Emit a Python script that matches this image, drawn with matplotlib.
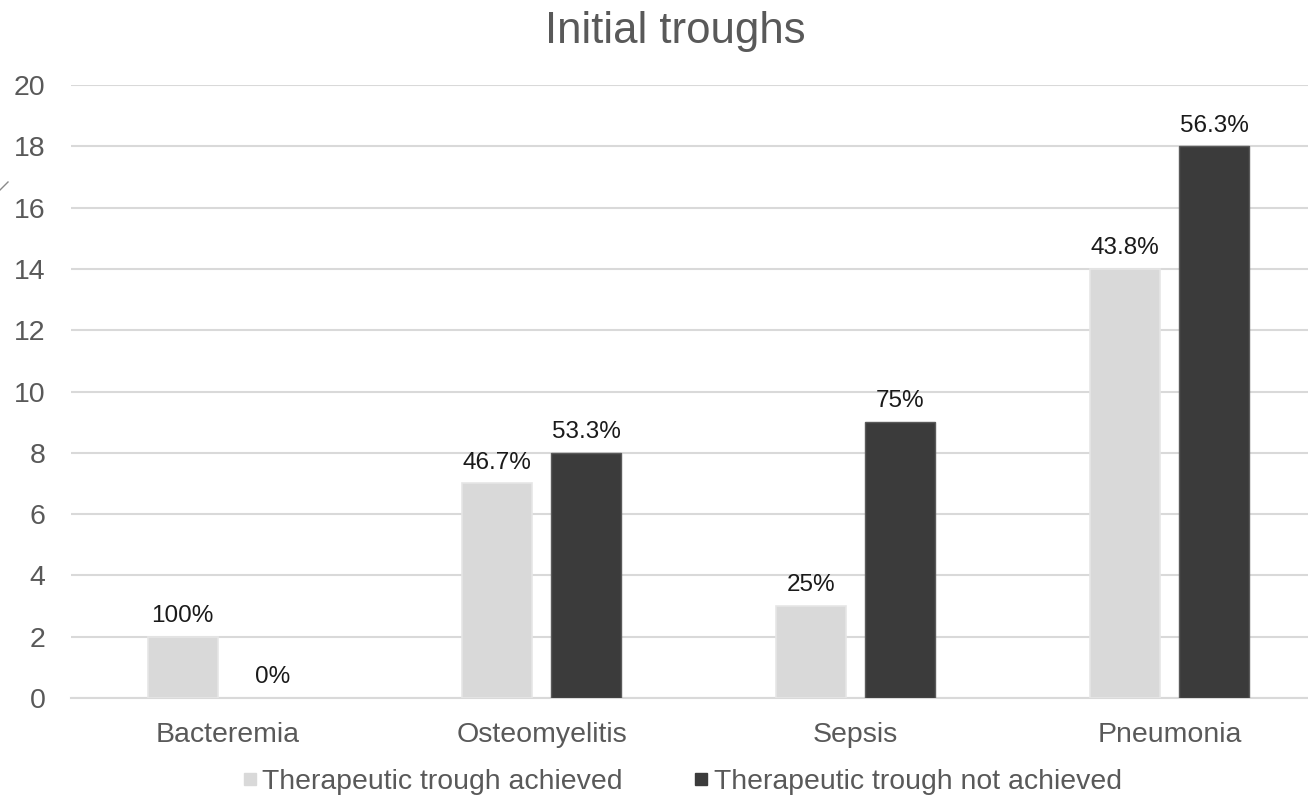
import matplotlib
matplotlib.use("Agg")
import matplotlib.pyplot as plt
from matplotlib.lines import Line2D
import numpy as np

categories = ["Bacteremia", "Osteomyelitis", "Sepsis", "Pneumonia"]
achieved = [2, 7, 3, 14]
not_achieved = [0, 8, 9, 18]
achieved_pct = ["100%", "46.7%", "25%", "43.8%"]
not_achieved_pct = ["0%", "53.3%", "75%", "56.3%"]
series_names = ["Therapeutic trough achieved", "Therapeutic trough not achieved"]

plt.rcParams["font.family"] = ["Liberation Sans", "DejaVu Sans"]

W, H = 1308, 799
fig = plt.figure(figsize=(W / 100, H / 100), dpi=100)
left, right = 70.5, 1326.5
bottom, top = 101, 714
ax = fig.add_axes([left / W, bottom / H, (right - left) / W, (top - bottom) / H])

light = "#d9d9d9"
dark = "#3b3b3b"
x = np.arange(len(categories))
bw = 0.223
off = 0.143

b1 = ax.bar(x - off, achieved, bw, color=light,
            edgecolor=["#e6e6e6" if v else "none" for v in achieved],
            linewidth=1.2, zorder=3)
b2 = ax.bar(x + off, not_achieved, bw, color=dark,
            edgecolor=["#5a5a5a" if v else "none" for v in not_achieved],
            linewidth=1.0, zorder=3)

for bars, labels in ((b1, achieved_pct), (b2, not_achieved_pct)):
    for rect, lab in zip(bars, labels):
        ax.annotate(lab, (rect.get_x() + rect.get_width() / 2, rect.get_height()),
                    xytext=(0, 7), textcoords="offset points", ha="center", va="bottom",
                    fontsize=17.5, color="#1a1a1a")

ax.set_xlim(-0.5, len(categories) - 0.5)
ax.set_ylim(0, 20)
ax.set_yticks(range(0, 21, 2))
ax.set_xticks(x)
ax.set_xticklabels(categories)
ax.tick_params(axis="both", length=0, labelsize=20.5, labelcolor="#595959")
ax.tick_params(axis="y", pad=18)
ax.tick_params(axis="x", pad=17)
ax.grid(axis="y", color="#d9d9d9", linewidth=1.5, zorder=0)
ax.set_axisbelow(True)
for s in ["top", "right", "left"]:
    ax.spines[s].set_visible(False)
ax.spines["bottom"].set_color("#d9d9d9")
ax.spines["bottom"].set_linewidth(1.5)

fig.text(675 / W, 1 - 31 / H, "Initial troughs", ha="center", va="center",
         fontsize=31.5, color="#595959")

handles = [Line2D([], [], marker="s", linestyle="none", markersize=8.5,
                  markerfacecolor=light, markeredgecolor=light),
           Line2D([], [], marker="s", linestyle="none", markersize=8.5,
                  markerfacecolor=dark, markeredgecolor=dark)]
fig.legend(handles, series_names, loc="center", bbox_to_anchor=(682 / W, 17 / H),
           ncol=2, frameon=False, fontsize=20.4, labelcolor="#595959",
           handlelength=0.5, handletextpad=0.2, columnspacing=2.5)

# small stroke at the left margin
fig.add_artist(Line2D([0 / W, 8 / W], [1 - 190 / H, 1 - 182 / H],
                      color="#8a8a8a", linewidth=1.0, transform=fig.transFigure))

fig.savefig("out.png", dpi=100)
